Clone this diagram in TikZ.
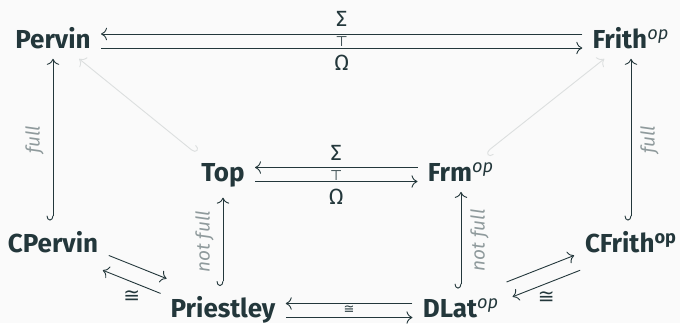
\documentclass[tikz,border=0pt]{standalone}
\usepackage{fontspec}
\setmainfont{Fira Sans}
\newfontfamily\symfont{DejaVu Sans}
\usetikzlibrary{arrows.meta}

\definecolor{mteal}{HTML}{23373B}
\definecolor{mgray}{HTML}{8F9A9C}
\definecolor{mfaint}{HTML}{DCDFDF}
\definecolor{mbg}{HTML}{FAFAFA}

\newcommand{\dualop}{\textsuperscript{\mdseries\itshape op}}

\tikzset{
  obj/.style={anchor=base, inner sep=5pt, text=mteal, font=\fontsize{13}{15}\selectfont\bfseries},
  map/.style={draw=mteal, line width=0.45pt, -{To[scale=1.15]}},
  hooked/.style={map, {Hooks[right, width=6.5pt, length=2.4pt]}-{To[scale=1.15]}},
  faint/.style={draw=mfaint, line width=0.45pt, {Hooks[left, width=6.5pt, length=2.4pt]}-{To[scale=1.15]}},
  lbl/.style={text=mteal, font=\fontsize{11}{13}\selectfont},
  iso/.style={text=mteal, font=\fontsize{#1}{#1}\selectfont\symfont},
  rem/.style={text=mgray, font=\fontsize{9.5}{11}\selectfont\itshape, rotate=90, inner sep=4.5pt},
}

\begin{document}
\begin{tikzpicture}[x=0.5pt, y=-0.5pt]
  \fill[mbg] (0,0) rectangle (680,323);
  \useasboundingbox (0,0) rectangle (680,323);

  % categories
  \node[obj] (Pervin) at (53,48) {Pervin};
  \node[obj] (Frith) at (631,48) {Frith\dualop};
  \node[obj] (Top) at (223,181.5) {Top};
  \node[obj] (Frm) at (461,181.5) {Frm\dualop};
  \node[obj] (CPervin) at (53,252) {CPervin};
  \node[obj] (CFrith) at (631,252) {CFrith\textsuperscript{op}};
  \node[obj] (Priestley) at (223,317.5) {Priestley};
  \node[obj] (DLat) at (461,317.5) {DLat\dualop};

  % adjunctions
  \draw[map] ([yshift=7pt]Frith.base west) -- node[lbl, above] {Σ} ([yshift=7pt]Pervin.base east);
  \draw[map] (Pervin.base east) -- node[lbl, below] {Ω}
    node[iso=7, midway, anchor=south, inner sep=0.3pt] {⊤} (Frith.base west);
  \draw[map] ([yshift=7pt]Frm.base west) -- node[lbl, above] {Σ} ([yshift=7pt]Top.base east);
  \draw[map] (Top.base east) -- node[lbl, below] {Ω}
    node[iso=7, midway, anchor=south, inner sep=0.3pt] {⊤} (Frm.base west);

  % dualities
  \draw[map] ([yshift=7pt]DLat.base west) -- ([yshift=7pt]Priestley.base east);
  \draw[map] (Priestley.base east) -- node[iso=6.5, midway, anchor=south, inner sep=1.8pt] {≅} (DLat.base west);
  \draw[map, transform canvas={xshift=1.5pt, yshift=3.7pt}] (CPervin) -- (Priestley);
  \draw[map, transform canvas={xshift=-1.5pt, yshift=-3.7pt}] (Priestley) -- node[iso=10, below, inner sep=4pt] {≅} (CPervin);
  \draw[map, transform canvas={xshift=-1.5pt, yshift=3.7pt}] (DLat) -- (CFrith);
  \draw[map, transform canvas={xshift=1.5pt, yshift=-3.7pt}] (CFrith) -- node[iso=10, below, inner sep=4pt] {≅} (DLat);

  % embeddings
  \draw[hooked] (CPervin) -- node[rem, midway, anchor=south] {full} (Pervin);
  \draw[hooked] (CFrith) -- node[rem, midway, anchor=north] {full} (Frith);
  \draw[hooked] (Priestley) -- node[rem, midway, anchor=south] {not full} (Top);
  \draw[hooked] (DLat) -- node[rem, midway, anchor=north] {not full} (Frm);
  \draw[faint] (Top) -- (Pervin);
  \draw[faint] (Frm) -- (Frith);
\end{tikzpicture}
\end{document}
